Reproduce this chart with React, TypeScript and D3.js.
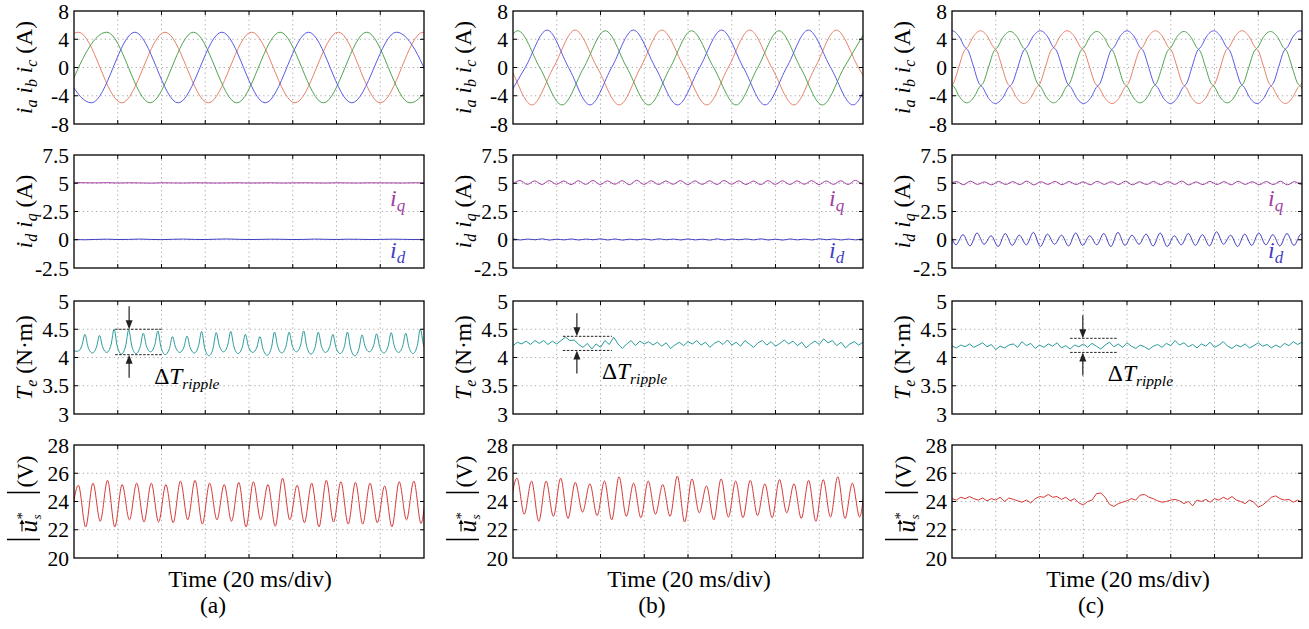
import React from 'react';
import * as d3 from 'd3';

type Pt = [number, number];

// ---------------- layout ----------------
const COL_LEFT = [74, 513, 952];
const ROW_TOP = [11, 155, 301, 445];
const PW = 350;
const PH = 113;
const FONT = '"Liberation Serif", "Times New Roman", Times, serif';

// ---------------- axes ----------------
const X_DIVS = [0, 1, 2, 3, 4, 5, 6, 7, 8];
const Y_DOMAINS: [number, number][] = [[-8, 8], [-2.5, 7.5], [3, 5], [20, 28]];
const Y_TICKS = [[8, 4, 0, -4, -8], [7.5, 5, 2.5, 0, -2.5], [5, 4.5, 4, 3.5, 3], [28, 26, 24, 22, 20]];
const Y_TICK_LABELS = [['8', '4', '0', '-4', '-8'], ['7.5', '5', '2.5', '0', '-2.5'], ['5', '4.5', '4', '3.5', '3'], ['28', '26', '24', '22', '20']];
const PANEL_LABELS = ['(a)', '(b)', '(c)'];
const X_TITLE = 'Time (20 ms/div)';

// ---------------- colours ----------------
const C_RED = '#e6836b';
const C_GREEN = '#52a352';
const C_BLUE = '#5a5ae6';
const C_IQ = '#a23ea2';
const C_ID = '#3f3fc4';
const C_TE = '#2a9a9a';
const C_US = '#d63838';

// ---------------- phase currents: extremes [time(div), A] ----------------
const redA: Pt[] = [[-0.89, -5.0], [0.10, 5.0], [1.09, -5.0], [2.08, 5.0], [3.07, -5.0], [4.06, 5.0], [5.05, -5.0], [6.04, 5.0], [7.00, -5.0], [7.98, 5.0], [8.97, -5.0]];
const greenA: Pt[] = [[-0.24, -5.0], [0.75, 5.0], [1.74, -5.0], [2.73, 5.0], [3.72, -5.0], [4.71, 5.0], [5.70, -5.0], [6.69, 5.0], [7.68, -5.0], [8.67, 5.0]];
const blueA: Pt[] = [[-0.59, 5.0], [0.40, -5.0], [1.39, 5.0], [2.38, -5.0], [3.38, 5.0], [4.37, -5.0], [5.36, 5.0], [6.35, -5.0], [7.37, 5.0], [8.33, -5.0]];

const redB: Pt[] = [[-0.56, 5.3], [0.43, -5.3], [1.42, 5.3], [2.43, -5.3], [3.40, 5.3], [4.43, -5.3], [5.41, 5.3], [6.42, -5.3], [7.39, 5.3], [8.40, -5.3]];
const greenB: Pt[] = [[-0.88, -5.3], [0.11, 5.2], [1.12, -5.3], [2.11, 5.2], [3.10, -5.3], [4.08, 5.2], [5.10, -5.3], [6.08, 5.2], [7.07, -5.3], [8.06, 5.2]];
const blueB: Pt[] = [[-0.22, -5.3], [0.78, 5.3], [1.76, -5.3], [2.75, 5.3], [3.76, -5.3], [4.77, 5.3], [5.76, -5.3], [6.75, 5.3], [7.77, -5.3], [8.74, 5.3]];

const redC: Pt[] = [[-0.34, -5.1], [0.65, 5.2], [1.64, -5.1], [2.63, 5.2], [3.66, -5.1], [4.65, 5.2], [5.64, -5.1], [6.63, 5.2], [7.62, -5.1], [8.61, 5.2]];
const greenC: Pt[] = [[-0.65, 5.1], [0.34, -5.0], [1.33, 5.1], [2.32, -5.0], [3.31, 5.1], [4.30, -5.0], [5.30, 5.1], [6.29, -5.0], [7.28, 5.1], [8.27, -5.0]];
const blueC: Pt[] = [[-0.99, -5.1], [0.0, 5.2], [0.99, -5.1], [2.02, 5.2], [3.01, -5.1], [4.0, 5.2], [4.99, -5.1], [5.98, 5.2], [6.97, -5.1], [7.96, 5.2], [8.95, -5.1]];

// half-cycle shapes: [fraction of half cycle, normalised level]
const SHAPE_A: Pt[] = [[0, 1], [1, -1]];
const SHAPE_B: Pt[] = [[0, 1], [0.5, 0], [1, -1]];
const SHAPE_C: Pt[] = [[0, 1], [0.17, 0.83], [0.29, 0.56], [0.38, 0.44], [0.5, 0], [0.62, -0.44], [0.71, -0.56], [0.83, -0.83], [1, -1]];

// ---------------- id / iq ----------------
const iqA = [5.06, 5.04, 5.03, 5.05, 5.02, 5.04, 5.03, 5.01, 5.04, 5.03, 5.02, 5.04, 5.03, 5.02, 5.03, 5.04, 5.02, 5.03, 5.04, 5.02, 5.03, 5.04, 5.03, 5.02, 5.04, 5.03, 5.02, 5.04, 5.03, 5.03, 5.02, 5.04, 5.03];
const idA = [0.02, 0.0, 0.03, 0.05, 0.02, 0.03, 0.06, 0.03, 0.01, 0.04, 0.06, 0.03, 0.02, 0.05, 0.07, 0.04, 0.02, 0.03, 0.05, 0.04, 0.02, 0.03, 0.06, 0.04, 0.02, 0.05, 0.04, 0.02, 0.03, 0.05, 0.04, 0.02, 0.03];

const iqBPeaks = [5.24, 5.21, 5.23, 5.2, 5.22, 5.24, 5.21, 5.23, 5.26, 5.22, 5.2, 5.23, 5.21, 5.22, 5.24, 5.21, 5.2, 5.23, 5.22, 5.21, 5.23, 5.2, 5.22, 5.26, 5.22];
const iqBTroughs = [4.92, 4.9, 4.89, 4.91, 4.88, 4.9, 4.89, 4.91, 4.87, 4.9, 4.89, 4.91, 4.88, 4.9, 4.89, 4.91, 4.89, 4.88, 4.9, 4.89, 4.91, 4.88, 4.9, 4.89, 4.91, 4.9];
const idBPeaks = [0.07, 0.06, 0.08, 0.05, 0.07, 0.06, 0.08, 0.07, 0.05, 0.07, 0.08, 0.06, 0.07, 0.05, 0.08, 0.06, 0.07, 0.08, 0.05, 0.07, 0.06, 0.08, 0.07, 0.06, 0.07];
const idBTroughs = [-0.01, -0.02, 0.0, -0.03, -0.01, -0.02, 0.0, -0.02, -0.03, -0.01, -0.02, 0.0, -0.02, -0.01, -0.03, -0.02, 0.0, -0.01, -0.02, -0.03, -0.01, -0.02, 0.0, -0.02, -0.01, -0.02];

const iqCPeaks = [5.15, 5.18, 5.12, 5.16, 5.14, 5.19, 5.13, 5.16, 5.15, 5.12, 5.17, 5.14, 5.18, 5.13, 5.16, 5.15, 5.19, 5.12, 5.16, 5.14, 5.17, 5.13, 5.15, 5.18, 5.14, 5.16];
const iqCTroughs = [4.9, 4.87, 4.9, 4.86, 4.89, 4.88, 4.85, 4.9, 4.87, 4.89, 4.86, 4.9, 4.88, 4.86, 4.89, 4.87, 4.9, 4.85, 4.88, 4.89, 4.86, 4.9, 4.87, 4.88, 4.86, 4.89, 4.88];
const idCPeaks = [0.5, 0.45, 0.6, 0.35, 0.55, 0.4, 0.65, 0.5, 0.4, 0.6, 0.35, 0.55, 0.65, 0.4, 0.5, 0.6, 0.35, 0.55, 0.45, 0.7, 0.4, 0.5, 0.6, 0.45, 0.55, 0.5];
const idCTroughs = [-0.45, -0.45, -0.55, -0.4, -0.6, -0.5, -0.45, -0.6, -0.4, -0.55, -0.5, -0.45, -0.6, -0.5, -0.4, -0.55, -0.6, -0.45, -0.5, -0.55, -0.4, -0.6, -0.5, -0.45, -0.55, -0.5, -0.45];

// ---------------- torque ----------------
const teAPeaks = [4.41, 4.39, 4.5, 4.49, 4.43, 4.47, 4.37, 4.38, 4.46, 4.44, 4.46, 4.41, 4.37, 4.45, 4.45, 4.47, 4.45, 4.41, 4.45, 4.4, 4.42, 4.44, 4.43, 4.5];
const teABottoms = [4.11, 4.08, 4.09, 4.06, 4.07, 4.1, 4.05, 4.09, 4.08, 4.03, 4.1, 4.07, 4.09, 4.04, 4.08, 4.1, 4.06, 4.09, 4.07, 4.03, 4.1, 4.08, 4.09, 4.07, 4.1];
const TE_PEAK_SHAPE: Pt[] = [[-0.07, 0.33], [0, 1], [0.07, 0.33]];
const teB = [4.21, 4.27, 4.24, 4.29, 4.23, 4.3, 4.25, 4.3, 4.23, 4.29,
  4.24, 4.3, 4.36, 4.3, 4.31, 4.23, 4.18, 4.25, 4.15, 4.24,
  4.18, 4.3, 4.23, 4.36, 4.24, 4.16, 4.24, 4.3, 4.21, 4.29,
  4.24, 4.28, 4.22, 4.27, 4.2, 4.26, 4.16, 4.22, 4.27, 4.21,
  4.28, 4.24, 4.3, 4.22, 4.27, 4.18, 4.25, 4.29, 4.23, 4.31,
  4.22, 4.27, 4.2, 4.3, 4.24, 4.18, 4.26, 4.3, 4.22, 4.28,
  4.2, 4.25, 4.31, 4.24, 4.29, 4.21, 4.27, 4.17, 4.24, 4.29,
  4.23, 4.33, 4.26, 4.3, 4.21, 4.27, 4.17, 4.24, 4.28, 4.22, 4.27];
const teC = [4.2, 4.17, 4.22, 4.19, 4.24, 4.18, 4.22, 4.26, 4.19, 4.23,
  4.14, 4.2, 4.17, 4.22, 4.24, 4.18, 4.28, 4.21, 4.25, 4.16,
  4.22, 4.18, 4.24, 4.2, 4.26, 4.17, 4.21, 4.15, 4.22, 4.19,
  4.24, 4.18, 4.25, 4.2, 4.15, 4.22, 4.27, 4.19, 4.24, 4.18,
  4.26, 4.2, 4.16, 4.22, 4.19, 4.14, 4.2, 4.23, 4.18, 4.25,
  4.21, 4.3, 4.22, 4.26, 4.19, 4.23, 4.17, 4.24, 4.2, 4.27,
  4.18, 4.22, 4.28, 4.2, 4.16, 4.22, 4.19, 4.24, 4.17, 4.21,
  4.26, 4.2, 4.23, 4.17, 4.22, 4.18, 4.25, 4.21, 4.28, 4.23, 4.27];

// ---------------- stator voltage reference ----------------
const usAPeaks = [25.15, 25.3, 25.5, 25.2, 25.3, 25.3, 25.2, 25.45, 25.5, 25.3, 25.2, 25.35, 25.4, 25.2, 25.65, 25.15, 25.3, 25.5, 25.4, 25.35, 25.3, 25.1, 25.4, 25.45, 25.3];
const usATroughs = [22.6, 22.2, 22.6, 22.2, 22.7, 22.55, 22.55, 22.5, 22.7, 22.4, 22.7, 22.6, 22.2, 22.7, 22.25, 22.7, 22.5, 22.2, 22.55, 22.4, 22.4, 22.5, 22.2, 22.7, 22.45, 22.5];
const usBPeaks = [25.65, 25.45, 25.45, 25.65, 25.35, 25.25, 25.45, 25.75, 25.3, 25.45, 25.2, 25.8, 25.6, 25.1, 25.6, 25.45, 25.5, 25.25, 25.55, 25.25, 25.5, 25.55, 25.75, 25.3, 25.5];
const usBTroughs = [23.2, 23.1, 22.6, 22.95, 22.8, 23.25, 23.0, 22.7, 22.95, 22.85, 23.1, 22.95, 22.55, 23.2, 22.7, 22.9, 22.85, 23.0, 22.85, 23.2, 22.8, 22.6, 22.9, 22.8, 22.9, 23.0];
const usC = [24.2, 24.1, 24.3, 24.2, 24.35, 24.2, 24.1, 24.25, 24.05, 24.2,
  24.1, 24.3, 24.0, 24.25, 24.15, 24.05, 23.95, 24.1, 23.9, 24.2,
  24.35, 24.3, 24.5, 24.3, 24.35, 24.15, 24.3, 24.05, 24.2, 23.9,
  23.75, 24.0, 24.1, 24.55, 24.6, 24.3, 23.8, 23.65, 23.85, 23.95,
  24.05, 24.2, 24.1, 24.45, 24.5, 24.3, 24.2, 24.05, 23.95, 24.0,
  24.1, 24.15, 24.05, 23.85, 24.0, 23.7, 24.1, 24.0, 24.15, 23.95,
  24.2, 24.1, 24.3, 24.15, 24.35, 24.1, 24.0, 23.85, 24.1, 23.95,
  23.6, 23.75, 24.0, 24.3, 24.4, 24.2, 24.1, 24.15, 23.95, 24.1, 23.95];

// ripple annotation: [x0, x1, upper, lower, arrow x] in div / N·m
const RIPPLE_MARKS = [[0.94, 2.03, 4.5, 4.05, 1.26], [1.14, 2.26, 4.375, 4.125, 1.46], [2.70, 3.79, 4.34, 4.09, 2.99]];

// ---------------- helpers ----------------
function halfCycles(ext: Pt[], shape: Pt[]): Pt[] {
  const out: Pt[] = [];
  for (let i = 0; i < ext.length - 1; i++) {
    const [t0, v0] = ext[i];
    const [t1, v1] = ext[i + 1];
    const mid = (v0 + v1) / 2;
    const half = (v0 - v1) / 2;
    shape.forEach(([f, n], j) => {
      if (i > 0 && j === 0) return;
      out.push([t0 + f * (t1 - t0), mid + n * half]);
    });
  }
  return out;
}

function ripple(t0: number, P: number, peaks: number[], troughs: number[], shape?: Pt[], lead?: Pt): Pt[] {
  const out: Pt[] = [];
  if (lead) out.push(lead);
  peaks.forEach((p, k) => {
    const tp = t0 + k * P;
    out.push([tp - P / 2, troughs[k]]);
    if (shape) {
      shape.forEach(([dt, lv]) => {
        const base = dt < 0 ? troughs[k] : troughs[k + 1];
        out.push([tp + dt, base + lv * (p - base)]);
      });
    } else {
      out.push([tp, p]);
    }
  });
  out.push([t0 + (peaks.length - 1) * P + P / 2, troughs[peaks.length]]);
  return out;
}

function uniform(values: number[], step: number): Pt[] {
  return values.map((v, i) => [i * step, v] as Pt);
}

type Series = { pts: Pt[]; color: string; smooth: boolean };

const SERIES: Series[][][] = [
  [
    [
      { pts: halfCycles(redA, SHAPE_A), color: C_RED, smooth: true },
      { pts: halfCycles(greenA, SHAPE_A), color: C_GREEN, smooth: true },
      { pts: halfCycles(blueA, SHAPE_A), color: C_BLUE, smooth: true },
    ],
    [
      { pts: uniform(iqA, 0.25), color: C_IQ, smooth: true },
      { pts: uniform(idA, 0.25), color: C_ID, smooth: true },
    ],
    [{ pts: ripple(0.25, 1 / 3, teAPeaks, teABottoms, TE_PEAK_SHAPE, [-0.05, 4.12]), color: C_TE, smooth: true }],
    [{ pts: ripple(0.1, 1 / 3, usAPeaks, usATroughs), color: C_US, smooth: true }],
  ],
  [
    [
      { pts: halfCycles(redB, SHAPE_B), color: C_RED, smooth: true },
      { pts: halfCycles(greenB, SHAPE_B), color: C_GREEN, smooth: true },
      { pts: halfCycles(blueB, SHAPE_B), color: C_BLUE, smooth: true },
    ],
    [
      { pts: ripple(0.16, 1 / 3, iqBPeaks, iqBTroughs), color: C_IQ, smooth: true },
      { pts: ripple(0.0, 1 / 3, idBPeaks, idBTroughs), color: C_ID, smooth: true },
    ],
    [{ pts: uniform(teB, 0.1), color: C_TE, smooth: false }],
    [{ pts: ripple(0.09, 1 / 3, usBPeaks, usBTroughs), color: C_US, smooth: true }],
  ],
  [
    [
      { pts: halfCycles(redC, SHAPE_C), color: C_RED, smooth: true },
      { pts: halfCycles(greenC, SHAPE_C), color: C_GREEN, smooth: true },
      { pts: halfCycles(blueC, SHAPE_C), color: C_BLUE, smooth: true },
    ],
    [
      { pts: ripple(0.1, 0.322, iqCPeaks, iqCTroughs), color: C_IQ, smooth: true },
      { pts: ripple(-0.072, 0.322, idCPeaks, idCTroughs), color: C_ID, smooth: true },
    ],
    [{ pts: uniform(teC, 0.1), color: C_TE, smooth: false }],
    [{ pts: uniform(usC, 0.1), color: C_US, smooth: false }],
  ],
];

function YTitle({ row }: { row: number }) {
  const sub = { fontSize: 16, fontStyle: 'italic' as const };
  if (row === 3) {
    return (
      <g transform={`translate(-49,${PH / 2}) rotate(-90)`}>
        <line x1={-38} x2={-38} y1={-18} y2={15} stroke="#000" strokeWidth={1.3} />
        <line x1={9} x2={9} y1={-18} y2={15} stroke="#000" strokeWidth={1.3} />
        <text x={-31} y={12} fontSize={25} fontStyle="italic">u</text>
        <line x1={-30} x2={-21} y1={-3} y2={-3} stroke="#000" strokeWidth={1.1} />
        <path d="M-18,-3 L-22.5,-5.5 L-22.5,-0.5 Z" fill="#000" />
        <text x={-18} y={2} fontSize={15}>*</text>
        <text x={-18} y={16} fontSize={13} fontStyle="italic">s</text>
        <text x={14} y={8} fontSize={23}>(V)</text>
      </g>
    );
  }
  return (
    <g transform={`translate(-42,${PH / 2}) rotate(-90)`}>
      <text x={0} y={0} textAnchor="middle" fontSize={23.5}>
        {row === 0 && (
          <>
            <tspan fontStyle="italic">i</tspan><tspan {...sub} dy={5}>a</tspan>
            <tspan dy={-5}> </tspan><tspan fontStyle="italic">i</tspan><tspan {...sub} dy={5}>b</tspan>
            <tspan dy={-5}> </tspan><tspan fontStyle="italic">i</tspan><tspan {...sub} dy={5}>c</tspan>
            <tspan dy={-5}> (A)</tspan>
          </>
        )}
        {row === 1 && (
          <>
            <tspan fontStyle="italic">i</tspan><tspan {...sub} dy={5}>d</tspan>
            <tspan dy={-5}> </tspan><tspan fontStyle="italic">i</tspan><tspan {...sub} dy={5}>q</tspan>
            <tspan dy={-5}> (A)</tspan>
          </>
        )}
        {row === 2 && (
          <>
            <tspan fontStyle="italic">T</tspan><tspan {...sub} dy={5}>e</tspan>
            <tspan dy={-5}> (N·m)</tspan>
          </>
        )}
      </text>
    </g>
  );
}

export default function App() {
  const x = d3.scaleLinear().domain([0, 8]).range([0, PW]);
  const yScales = Y_DOMAINS.map((d) => d3.scaleLinear().domain(d).range([PH, 0]));

  const panels: React.ReactNode[] = [];
  for (let col = 0; col < 3; col++) {
    for (let row = 0; row < 4; row++) {
      const y = yScales[row];
      const id = `clip-${col}-${row}`;
      const ticks = Y_TICKS[row];
      const innerY = ticks.slice(1, -1);
      const innerX = X_DIVS.slice(1, -1);
      const lineS = d3.line<Pt>().x((d) => x(d[0])).y((d) => y(d[1])).curve(d3.curveMonotoneX);
      const lineL = d3.line<Pt>().x((d) => x(d[0])).y((d) => y(d[1]));
      let extra: React.ReactNode = null;
      if (row === 1) {
        extra = (
          <g fontSize={24} fontStyle="italic">
            <text x={PW - 34} y={51} fill={C_IQ}>i<tspan fontSize={17} dy={5}>q</tspan></text>
            <text x={PW - 34} y={103} fill={C_ID}>i<tspan fontSize={17} dy={5}>d</tspan></text>
          </g>
        );
      }
      if (row === 2) {
        const [a0, a1, hi, lo, ax] = RIPPLE_MARKS[col];
        const yh = y(hi);
        const yl = y(lo);
        const xa = x(ax);
        extra = (
          <g>
            <line x1={x(a0)} x2={x(a1)} y1={yh} y2={yh} stroke="#222" strokeWidth={1} strokeDasharray="2.5,1.5" />
            <line x1={x(a0)} x2={x(a1)} y1={yl} y2={yl} stroke="#222" strokeWidth={1} strokeDasharray="2.5,1.5" />
            <line x1={xa} x2={xa} y1={yh - 23} y2={yh - 6} stroke="#222" strokeWidth={1.2} />
            <path d={`M${xa},${yh} L${xa - 3.5},${yh - 9} L${xa + 3.5},${yh - 9} Z`} fill="#222" />
            <line x1={xa} x2={xa} y1={yl + 23} y2={yl + 6} stroke="#222" strokeWidth={1.2} />
            <path d={`M${xa},${yl} L${xa - 3.5},${yl + 9} L${xa + 3.5},${yl + 9} Z`} fill="#222" />
            <text x={xa + 25} y={yl + 29} fontSize={23.5}>
              Δ<tspan fontStyle="italic">T</tspan><tspan fontStyle="italic" fontSize={15.5} dy={5}>ripple</tspan>
            </text>
          </g>
        );
      }
      panels.push(
        <g key={id} transform={`translate(${COL_LEFT[col]},${ROW_TOP[row]})`}>
          <defs>
            <clipPath id={id}><rect x={0} y={0} width={PW} height={PH} /></clipPath>
          </defs>
          {innerX.map((d) => (
            <line key={'gx' + d} x1={x(d)} x2={x(d)} y1={0} y2={PH} stroke="#a6a6a6" strokeWidth={1} strokeDasharray="1.2,3.2" />
          ))}
          {innerY.map((v) => (
            <line key={'gy' + v} x1={0} x2={PW} y1={y(v)} y2={y(v)} stroke="#a6a6a6" strokeWidth={1} strokeDasharray="1.2,3.2" />
          ))}
          <g clipPath={`url(#${id})`}>
            {SERIES[col][row].map((s, i) => (
              <path key={i} d={(s.smooth ? lineS : lineL)(s.pts) || ''} fill="none" stroke={s.color} strokeWidth={1} />
            ))}
          </g>
          {innerX.map((d) => (
            <g key={'tx' + d}>
              <line x1={x(d)} x2={x(d)} y1={0} y2={4} stroke="#000" />
              <line x1={x(d)} x2={x(d)} y1={PH} y2={PH - 4} stroke="#000" />
            </g>
          ))}
          {innerY.map((v) => (
            <g key={'ty' + v}>
              <line x1={0} x2={4} y1={y(v)} y2={y(v)} stroke="#000" />
              <line x1={PW} x2={PW - 4} y1={y(v)} y2={y(v)} stroke="#000" />
            </g>
          ))}
          <rect x={0} y={0} width={PW} height={PH} fill="none" stroke="#000" strokeWidth={1.3} />
          {ticks.map((v, i) => (
            <text key={'tl' + v} x={-5} y={y(v)} dy="0.35em" textAnchor="end" fontSize={21.5}>{Y_TICK_LABELS[row][i]}</text>
          ))}
          <YTitle row={row} />
          {extra}
        </g>
      );
    }
    const cx = COL_LEFT[col] + PW / 2;
    panels.push(
      <g key={'lab' + col}>
        <text x={cx + 1} y={587} textAnchor="middle" fontSize={23.5}>{X_TITLE}</text>
        <text x={cx - 36} y={613} textAnchor="middle" fontSize={23.5}>{PANEL_LABELS[col]}</text>
      </g>
    );
  }

  return (
    <svg width={1309} height={629} viewBox="0 0 1309 629" style={{ position: 'absolute', left: 0, top: 0, background: '#fff' }} fontFamily={FONT}>
      <rect width={1309} height={629} fill="#fff" />
      {panels}
    </svg>
  );
}
